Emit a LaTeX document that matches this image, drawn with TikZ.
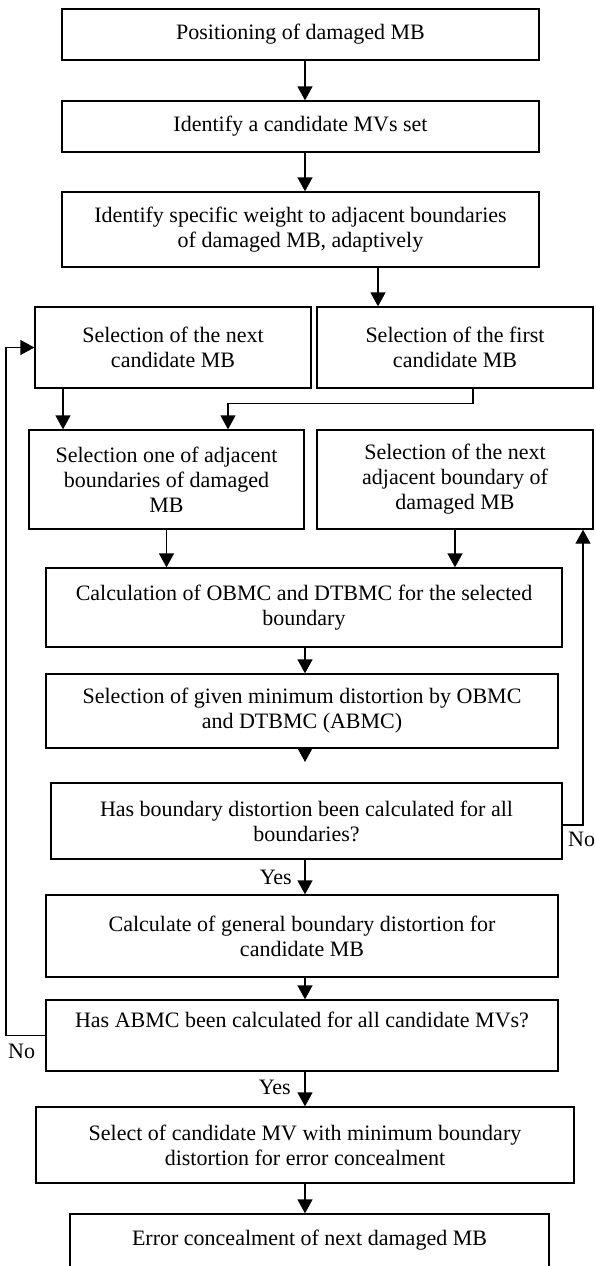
\documentclass[tikz,border=0pt]{standalone}
\usepackage{fontspec}
\setmainfont{Liberation Serif}
\usetikzlibrary{arrows.meta}
\tikzset{
  box/.style={draw, line width=1.3pt, inner sep=0pt, align=center,
    font=\fontsize{22}{25}\selectfont},
  arr/.style={line width=1.3pt, -{Triangle[length=14pt,width=15pt]}},
  lbl/.style={inner sep=0pt, font=\fontsize{22}{25}\selectfont}
}
\begin{document}
\begin{tikzpicture}[x=1pt,y=-1pt]
\useasboundingbox (0,0) rectangle (595,1266);
% column coordinates
\coordinate (mid) at (305,0);
\coordinate (xd) at (378,0);
\coordinate (xa) at (63,0);
\coordinate (xb) at (473,0);
\coordinate (xc) at (228,0);
\coordinate (xr) at (583,0);
\coordinate (xl) at (6,0);
\coordinate (tip) at (305,762);

\node[box, minimum width=477pt, minimum height=51pt] (b1) at (300.5,34.5) {Positioning of damaged MB};
\node[box, minimum width=477pt, minimum height=51pt] (b2) at (300.5,126.5) {Identify a candidate MVs set};
\node[box, minimum width=477pt, minimum height=75pt] (b3) at (300.5,229.5) {Identify specific weight to adjacent boundaries\\of damaged MB, adaptively};
\node[box, minimum width=276pt, minimum height=81pt] (nextc) at (173,347.5) {Selection of the next\\candidate MB};
\node[box, minimum width=276pt, minimum height=81pt] (first) at (455,347.5) {Selection of the first\\candidate MB};
\node[box, minimum width=275pt, minimum height=99pt] (oneadj) at (166.5,479.5) {Selection one of adjacent\\boundaries of damaged\\MB};
\node[box, minimum width=276pt, minimum height=99pt] (nextadj) at (455,479.5) {Selection of the next\\adjacent boundary of\\damaged MB};
\node[box, minimum width=516pt, minimum height=79pt] (calc) at (304,607.5) {Calculation of OBMC and DTBMC for the selected\\boundary};
\node[box, minimum width=512pt, minimum height=74pt] (sel) at (302,711) {Selection of given minimum distortion by OBMC\\and DTBMC (ABMC)};
\node[box, minimum width=511pt, minimum height=76pt] (has) at (306.5,821) {Has boundary distortion been calculated for all\\boundaries?};
\node[box, minimum width=512pt, minimum height=82pt] (gen) at (302,936) {Calculate of general boundary distortion for\\candidate MB};
\node[box, minimum width=512pt, minimum height=71pt] (abmc) at (302,1035.5) {Has ABMC been calculated for all candidate MVs?\\\strut};
\node[box, minimum width=538pt, minimum height=76pt] (select) at (305,1145) {Select of candidate MV with minimum boundary\\distortion for error concealment};
\node[box, minimum width=479pt, minimum height=53pt] (err) at (309.5,1240.5) {Error concealment of next damaged MB};

% labels
\node[lbl, anchor=east] (yes1) at (292,877) {Yes};
\node[lbl, anchor=east] (yes2) at (291,1087) {Yes};
\node[lbl, anchor=west] (no1) at (568,839) {No};
\node[lbl, anchor=west] (no2) at (8,1051) {No};

% connectors
\draw[arr] (b1.south -| mid) -- (b2.north -| mid);
\draw[arr] (b2.south -| mid) -- (b3.north -| mid);
\draw[arr] (b3.south -| xd) -- (first.north -| xd);
\draw[arr] (nextc.south -| xa) -- (oneadj.north -| xa);
\draw[arr] (first.south -| xb) -- ++(0,15) -| (oneadj.north -| xc);
\draw[arr] (oneadj.south) -- (calc.north -| oneadj.south);
\draw[arr] (nextadj.south) -- (calc.north -| nextadj.south);
\draw[arr] (calc.south -| mid) -- (sel.north -| mid);
\draw[arr] (sel.south -| mid) -- (tip);
\draw[arr] (has.south -| mid) -- (gen.north -| mid);
\draw[arr] ([yshift=-4pt]has.east) -| (nextadj.south -| xr);
\draw[arr] (gen.south -| mid) -- (abmc.north -| mid);
\draw[arr] (abmc.west) -- (abmc.west -| xl) |- (nextc.west);
\draw[arr] (abmc.south -| mid) -- (select.north -| mid);
\draw[arr] (select.south -| mid) -- (err.north -| mid);
\end{tikzpicture}
\end{document}
